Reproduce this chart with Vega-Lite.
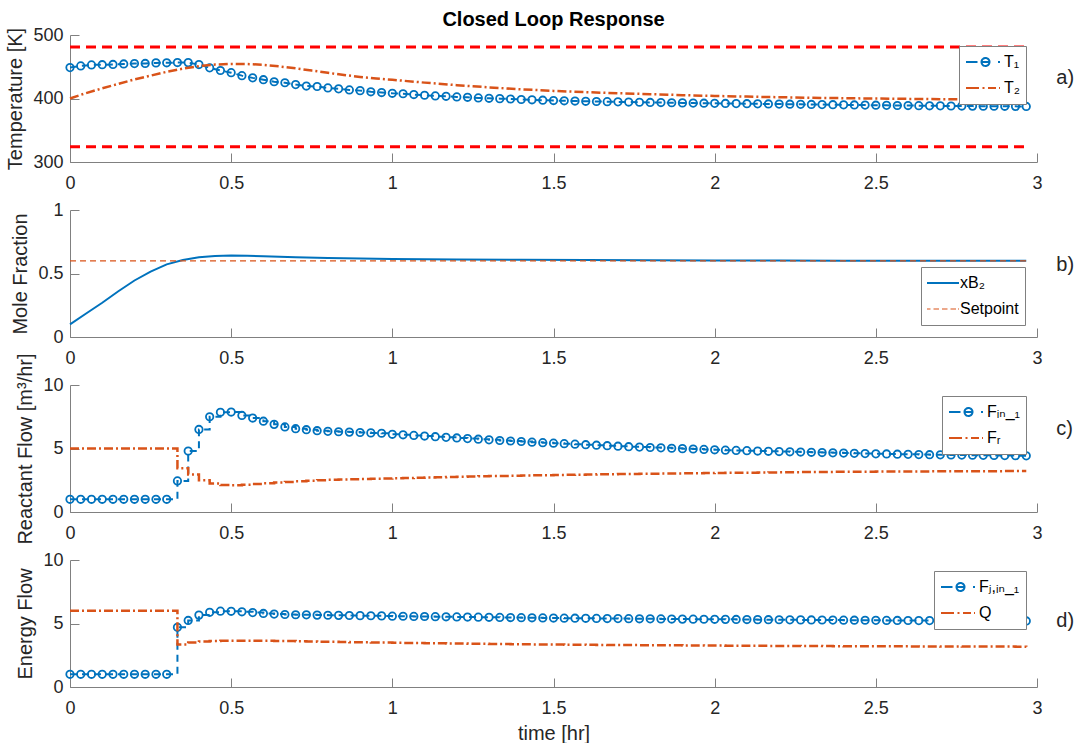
{
"$schema": "https://vega.github.io/schema/vega-lite/v6.json",
"background": "white",
"padding": {"left": 5, "top": 10, "right": 0, "bottom": 0},
"spacing": 48,
"bounds": "flush",
"datasets": {
"T1": [{"t":0,"v":448.7},{"t":0.0333,"v":451.3},{"t":0.0667,"v":452.9},{"t":0.1,"v":453.2},{"t":0.1333,"v":453.6},{"t":0.1667,"v":454.4},{"t":0.2,"v":455.0},{"t":0.2333,"v":455.2},{"t":0.2667,"v":456.1},{"t":0.3,"v":456.2},{"t":0.3333,"v":456.6},{"t":0.3667,"v":456.5},{"t":0.4,"v":453.5},{"t":0.4333,"v":448.3},{"t":0.4667,"v":444.1},{"t":0.5,"v":440.7},{"t":0.5333,"v":436.0},{"t":0.5667,"v":432.5},{"t":0.6,"v":429.6},{"t":0.6333,"v":426.4},{"t":0.6667,"v":424.8},{"t":0.7,"v":421.9},{"t":0.7333,"v":419.6},{"t":0.7667,"v":418.9},{"t":0.8,"v":416.7},{"t":0.8333,"v":415.2},{"t":0.8667,"v":413.5},{"t":0.9,"v":412.4},{"t":0.9333,"v":410.6},{"t":0.9667,"v":409.4},{"t":1,"v":408.2},{"t":1.0333,"v":407.5},{"t":1.0667,"v":406.2},{"t":1.1,"v":405.1},{"t":1.1333,"v":404.1},{"t":1.1667,"v":403.5},{"t":1.2,"v":402.5},{"t":1.2333,"v":401.9},{"t":1.2667,"v":400.9},{"t":1.3,"v":400.3},{"t":1.3333,"v":399.8},{"t":1.3667,"v":399.2},{"t":1.4,"v":398.4},{"t":1.4333,"v":398.0},{"t":1.4667,"v":397.3},{"t":1.5,"v":396.8},{"t":1.5333,"v":396.4},{"t":1.5667,"v":396.0},{"t":1.6,"v":395.6},{"t":1.6333,"v":395.3},{"t":1.6667,"v":395.0},{"t":1.7,"v":394.7},{"t":1.7333,"v":394.4},{"t":1.7667,"v":394.1},{"t":1.8,"v":393.8},{"t":1.8333,"v":393.6},{"t":1.8667,"v":393.3},{"t":1.9,"v":393.1},{"t":1.9333,"v":392.8},{"t":1.9667,"v":392.6},{"t":2,"v":392.4},{"t":2.0333,"v":392.2},{"t":2.0667,"v":392.0},{"t":2.1,"v":391.8},{"t":2.1333,"v":391.6},{"t":2.1667,"v":391.4},{"t":2.2,"v":391.2},{"t":2.2333,"v":391.0},{"t":2.2667,"v":390.8},{"t":2.3,"v":390.6},{"t":2.3333,"v":390.4},{"t":2.3667,"v":390.2},{"t":2.4,"v":390.0},{"t":2.4333,"v":389.8},{"t":2.4667,"v":389.6},{"t":2.5,"v":389.4},{"t":2.5333,"v":389.2},{"t":2.5667,"v":389.0},{"t":2.6,"v":388.9},{"t":2.6333,"v":388.7},{"t":2.6667,"v":388.5},{"t":2.7,"v":388.4},{"t":2.7333,"v":388.2},{"t":2.7667,"v":388.1},{"t":2.8,"v":388.0},{"t":2.8333,"v":387.9},{"t":2.8667,"v":387.8},{"t":2.9,"v":387.7},{"t":2.9333,"v":387.6},{"t":2.9667,"v":387.5}],
"T2": [{"t":0,"v":400},{"t":0.05,"v":408.5},{"t":0.1,"v":416},{"t":0.15,"v":423},{"t":0.2,"v":430},{"t":0.25,"v":436},{"t":0.3,"v":442},{"t":0.35,"v":447},{"t":0.4,"v":451},{"t":0.45,"v":453.5},{"t":0.5,"v":454.5},{"t":0.55,"v":454.3},{"t":0.6,"v":453},{"t":0.65,"v":450.5},{"t":0.7,"v":447.5},{"t":0.75,"v":444},{"t":0.8,"v":440.5},{"t":0.85,"v":437},{"t":0.9,"v":434},{"t":0.95,"v":431.5},{"t":1.0,"v":429.5},{"t":1.1,"v":425},{"t":1.2,"v":421},{"t":1.3,"v":417.5},{"t":1.4,"v":414.5},{"t":1.5,"v":412},{"t":1.6,"v":410},{"t":1.7,"v":408.3},{"t":1.8,"v":406.8},{"t":1.9,"v":405.3},{"t":2.0,"v":404},{"t":2.1,"v":403},{"t":2.2,"v":402},{"t":2.3,"v":401.2},{"t":2.4,"v":400.5},{"t":2.5,"v":399.9},{"t":2.6,"v":399.4},{"t":2.7,"v":399},{"t":2.8,"v":398.6},{"t":2.9,"v":398.3},{"t":2.9667,"v":398.1}],
"lim": [{"t":0,"t2":2.9667,"v":481},{"t":0,"t2":2.9667,"v":324}],
"xb": [{"t":0,"v":0.10},{"t":0.05,"v":0.185},{"t":0.1,"v":0.27},{"t":0.15,"v":0.36},{"t":0.2,"v":0.445},{"t":0.25,"v":0.515},{"t":0.3,"v":0.572},{"t":0.35,"v":0.607},{"t":0.4,"v":0.628},{"t":0.45,"v":0.638},{"t":0.5,"v":0.641},{"t":0.55,"v":0.640},{"t":0.6,"v":0.636},{"t":0.7,"v":0.628},{"t":0.8,"v":0.622},{"t":0.9,"v":0.618},{"t":1.0,"v":0.615},{"t":1.2,"v":0.611},{"t":1.4,"v":0.608},{"t":1.6,"v":0.606},{"t":1.8,"v":0.604},{"t":2.0,"v":0.603},{"t":2.2,"v":0.602},{"t":2.4,"v":0.601},{"t":2.6,"v":0.600},{"t":2.8,"v":0.600},{"t":2.9667,"v":0.600}],
"sp": [{"t":0,"v":0.6},{"t":2.9667,"v":0.6}],
"Fin": [{"t":0,"v":1.0},{"t":0.0333,"v":1.0},{"t":0.0667,"v":1.0},{"t":0.1,"v":1.0},{"t":0.1333,"v":1.0},{"t":0.1667,"v":1.0},{"t":0.2,"v":1.0},{"t":0.2333,"v":1.0},{"t":0.2667,"v":1.0},{"t":0.3,"v":1.0},{"t":0.3333,"v":2.45},{"t":0.3667,"v":4.8},{"t":0.4,"v":6.5},{"t":0.4333,"v":7.5},{"t":0.4667,"v":7.85},{"t":0.5,"v":7.87},{"t":0.5333,"v":7.6},{"t":0.5667,"v":7.4},{"t":0.6,"v":7.15},{"t":0.6333,"v":6.9},{"t":0.6667,"v":6.7},{"t":0.7,"v":6.56},{"t":0.7333,"v":6.48},{"t":0.7667,"v":6.4},{"t":0.8,"v":6.35},{"t":0.8333,"v":6.32},{"t":0.8667,"v":6.29},{"t":0.9,"v":6.26},{"t":0.9333,"v":6.23},{"t":0.9667,"v":6.2},{"t":1,"v":6.12},{"t":1.0333,"v":6.08},{"t":1.0667,"v":6.03},{"t":1.1,"v":5.98},{"t":1.1333,"v":5.93},{"t":1.1667,"v":5.88},{"t":1.2,"v":5.83},{"t":1.2333,"v":5.78},{"t":1.2667,"v":5.73},{"t":1.3,"v":5.68},{"t":1.3333,"v":5.63},{"t":1.3667,"v":5.59},{"t":1.4,"v":5.55},{"t":1.4333,"v":5.5},{"t":1.4667,"v":5.46},{"t":1.5,"v":5.42},{"t":1.5333,"v":5.38},{"t":1.5667,"v":5.34},{"t":1.6,"v":5.3},{"t":1.6333,"v":5.26},{"t":1.6667,"v":5.22},{"t":1.7,"v":5.18},{"t":1.7333,"v":5.14},{"t":1.7667,"v":5.11},{"t":1.8,"v":5.08},{"t":1.8333,"v":5.05},{"t":1.8667,"v":5.02},{"t":1.9,"v":4.99},{"t":1.9333,"v":4.96},{"t":1.9667,"v":4.93},{"t":2,"v":4.9},{"t":2.0333,"v":4.87},{"t":2.0667,"v":4.85},{"t":2.1,"v":4.83},{"t":2.1333,"v":4.8},{"t":2.1667,"v":4.78},{"t":2.2,"v":4.76},{"t":2.2333,"v":4.74},{"t":2.2667,"v":4.72},{"t":2.3,"v":4.7},{"t":2.3333,"v":4.68},{"t":2.3667,"v":4.66},{"t":2.4,"v":4.64},{"t":2.4333,"v":4.62},{"t":2.4667,"v":4.6},{"t":2.5,"v":4.58},{"t":2.5333,"v":4.57},{"t":2.5667,"v":4.55},{"t":2.6,"v":4.54},{"t":2.6333,"v":4.52},{"t":2.6667,"v":4.51},{"t":2.7,"v":4.5},{"t":2.7333,"v":4.49},{"t":2.7667,"v":4.48},{"t":2.8,"v":4.47},{"t":2.8333,"v":4.46},{"t":2.8667,"v":4.45},{"t":2.9,"v":4.44},{"t":2.9333,"v":4.43},{"t":2.9667,"v":4.42}],
"FR": [{"t":0,"v":5.0},{"t":0.0333,"v":5.0},{"t":0.0667,"v":5.0},{"t":0.1,"v":5.0},{"t":0.1333,"v":5.0},{"t":0.1667,"v":5.0},{"t":0.2,"v":5.0},{"t":0.2333,"v":5.0},{"t":0.2667,"v":5.0},{"t":0.3,"v":5.0},{"t":0.3333,"v":3.45},{"t":0.3667,"v":2.95},{"t":0.4,"v":2.5},{"t":0.4333,"v":2.25},{"t":0.4667,"v":2.12},{"t":0.5,"v":2.1},{"t":0.5333,"v":2.15},{"t":0.5667,"v":2.2},{"t":0.6,"v":2.26},{"t":0.6333,"v":2.32},{"t":0.6667,"v":2.37},{"t":0.7,"v":2.42},{"t":0.7333,"v":2.46},{"t":0.7667,"v":2.5},{"t":0.8,"v":2.53},{"t":0.8333,"v":2.55},{"t":0.8667,"v":2.57},{"t":0.9,"v":2.59},{"t":0.9333,"v":2.61},{"t":0.9667,"v":2.63},{"t":1,"v":2.65},{"t":1.0333,"v":2.67},{"t":1.0667,"v":2.69},{"t":1.1,"v":2.71},{"t":1.1333,"v":2.73},{"t":1.1667,"v":2.75},{"t":1.2,"v":2.77},{"t":1.2333,"v":2.79},{"t":1.2667,"v":2.81},{"t":1.3,"v":2.83},{"t":1.3333,"v":2.84},{"t":1.3667,"v":2.86},{"t":1.4,"v":2.87},{"t":1.4333,"v":2.89},{"t":1.4667,"v":2.9},{"t":1.5,"v":2.91},{"t":1.5333,"v":2.93},{"t":1.5667,"v":2.94},{"t":1.6,"v":2.95},{"t":1.6333,"v":2.97},{"t":1.6667,"v":2.98},{"t":1.7,"v":2.99},{"t":1.7333,"v":3.0},{"t":1.7667,"v":3.01},{"t":1.8,"v":3.02},{"t":1.8333,"v":3.03},{"t":1.8667,"v":3.04},{"t":1.9,"v":3.05},{"t":1.9333,"v":3.06},{"t":1.9667,"v":3.07},{"t":2,"v":3.08},{"t":2.0333,"v":3.09},{"t":2.0667,"v":3.1},{"t":2.1,"v":3.1},{"t":2.1333,"v":3.11},{"t":2.1667,"v":3.12},{"t":2.2,"v":3.13},{"t":2.2333,"v":3.13},{"t":2.2667,"v":3.14},{"t":2.3,"v":3.15},{"t":2.3333,"v":3.15},{"t":2.3667,"v":3.16},{"t":2.4,"v":3.16},{"t":2.4333,"v":3.17},{"t":2.4667,"v":3.17},{"t":2.5,"v":3.18},{"t":2.5333,"v":3.18},{"t":2.5667,"v":3.19},{"t":2.6,"v":3.19},{"t":2.6333,"v":3.19},{"t":2.6667,"v":3.2},{"t":2.7,"v":3.2},{"t":2.7333,"v":3.2},{"t":2.7667,"v":3.21},{"t":2.8,"v":3.21},{"t":2.8333,"v":3.21},{"t":2.8667,"v":3.21},{"t":2.9,"v":3.22},{"t":2.9333,"v":3.22},{"t":2.9667,"v":3.22}],
"Fj": [{"t":0,"v":1.0},{"t":0.0333,"v":1.0},{"t":0.0667,"v":1.0},{"t":0.1,"v":1.0},{"t":0.1333,"v":1.0},{"t":0.1667,"v":1.0},{"t":0.2,"v":1.0},{"t":0.2333,"v":1.0},{"t":0.2667,"v":1.0},{"t":0.3,"v":1.0},{"t":0.3333,"v":4.7},{"t":0.3667,"v":5.24},{"t":0.4,"v":5.66},{"t":0.4333,"v":5.88},{"t":0.4667,"v":5.97},{"t":0.5,"v":5.96},{"t":0.5333,"v":5.92},{"t":0.5667,"v":5.86},{"t":0.6,"v":5.79},{"t":0.6333,"v":5.74},{"t":0.6667,"v":5.71},{"t":0.7,"v":5.69},{"t":0.7333,"v":5.68},{"t":0.7667,"v":5.66},{"t":0.8,"v":5.65},{"t":0.8333,"v":5.64},{"t":0.8667,"v":5.63},{"t":0.9,"v":5.62},{"t":0.9333,"v":5.61},{"t":0.9667,"v":5.6},{"t":1,"v":5.58},{"t":1.0333,"v":5.57},{"t":1.0667,"v":5.56},{"t":1.1,"v":5.55},{"t":1.1333,"v":5.54},{"t":1.1667,"v":5.53},{"t":1.2,"v":5.52},{"t":1.2333,"v":5.51},{"t":1.2667,"v":5.5},{"t":1.3,"v":5.49},{"t":1.3333,"v":5.48},{"t":1.3667,"v":5.47},{"t":1.4,"v":5.46},{"t":1.4333,"v":5.45},{"t":1.4667,"v":5.44},{"t":1.5,"v":5.43},{"t":1.5333,"v":5.42},{"t":1.5667,"v":5.415},{"t":1.6,"v":5.41},{"t":1.6333,"v":5.4},{"t":1.6667,"v":5.39},{"t":1.7,"v":5.385},{"t":1.7333,"v":5.38},{"t":1.7667,"v":5.37},{"t":1.8,"v":5.365},{"t":1.8333,"v":5.36},{"t":1.8667,"v":5.35},{"t":1.9,"v":5.345},{"t":1.9333,"v":5.34},{"t":1.9667,"v":5.335},{"t":2,"v":5.33},{"t":2.0333,"v":5.325},{"t":2.0667,"v":5.32},{"t":2.1,"v":5.31},{"t":2.1333,"v":5.305},{"t":2.1667,"v":5.3},{"t":2.2,"v":5.295},{"t":2.2333,"v":5.29},{"t":2.2667,"v":5.285},{"t":2.3,"v":5.28},{"t":2.3333,"v":5.275},{"t":2.3667,"v":5.27},{"t":2.4,"v":5.265},{"t":2.4333,"v":5.26},{"t":2.4667,"v":5.255},{"t":2.5,"v":5.25},{"t":2.5333,"v":5.245},{"t":2.5667,"v":5.24},{"t":2.6,"v":5.235},{"t":2.6333,"v":5.23},{"t":2.6667,"v":5.228},{"t":2.7,"v":5.225},{"t":2.7333,"v":5.222},{"t":2.7667,"v":5.22},{"t":2.8,"v":5.217},{"t":2.8333,"v":5.215},{"t":2.8667,"v":5.212},{"t":2.9,"v":5.21},{"t":2.9333,"v":5.205},{"t":2.9667,"v":5.2}],
"Q": [{"t":0,"v":6.0},{"t":0.0333,"v":6.0},{"t":0.0667,"v":6.0},{"t":0.1,"v":6.0},{"t":0.1333,"v":6.0},{"t":0.1667,"v":6.0},{"t":0.2,"v":6.0},{"t":0.2333,"v":6.0},{"t":0.2667,"v":6.0},{"t":0.3,"v":6.0},{"t":0.3333,"v":3.35},{"t":0.3667,"v":3.5},{"t":0.4,"v":3.58},{"t":0.4333,"v":3.62},{"t":0.4667,"v":3.64},{"t":0.5,"v":3.65},{"t":0.5333,"v":3.65},{"t":0.5667,"v":3.64},{"t":0.6,"v":3.64},{"t":0.6333,"v":3.63},{"t":0.6667,"v":3.62},{"t":0.7,"v":3.6},{"t":0.7333,"v":3.59},{"t":0.7667,"v":3.57},{"t":0.8,"v":3.56},{"t":0.8333,"v":3.55},{"t":0.8667,"v":3.53},{"t":0.9,"v":3.52},{"t":0.9333,"v":3.51},{"t":0.9667,"v":3.5},{"t":1,"v":3.48},{"t":1.0333,"v":3.47},{"t":1.0667,"v":3.46},{"t":1.1,"v":3.45},{"t":1.1333,"v":3.44},{"t":1.1667,"v":3.43},{"t":1.2,"v":3.42},{"t":1.2333,"v":3.41},{"t":1.2667,"v":3.4},{"t":1.3,"v":3.39},{"t":1.3333,"v":3.38},{"t":1.3667,"v":3.37},{"t":1.4,"v":3.36},{"t":1.4333,"v":3.355},{"t":1.4667,"v":3.35},{"t":1.5,"v":3.34},{"t":1.5333,"v":3.335},{"t":1.5667,"v":3.33},{"t":1.6,"v":3.32},{"t":1.6333,"v":3.315},{"t":1.6667,"v":3.31},{"t":1.7,"v":3.305},{"t":1.7333,"v":3.3},{"t":1.7667,"v":3.295},{"t":1.8,"v":3.29},{"t":1.8333,"v":3.285},{"t":1.8667,"v":3.28},{"t":1.9,"v":3.275},{"t":1.9333,"v":3.27},{"t":1.9667,"v":3.265},{"t":2,"v":3.26},{"t":2.0333,"v":3.255},{"t":2.0667,"v":3.25},{"t":2.1,"v":3.245},{"t":2.1333,"v":3.24},{"t":2.1667,"v":3.237},{"t":2.2,"v":3.234},{"t":2.2333,"v":3.23},{"t":2.2667,"v":3.227},{"t":2.3,"v":3.224},{"t":2.3333,"v":3.22},{"t":2.3667,"v":3.217},{"t":2.4,"v":3.214},{"t":2.4333,"v":3.21},{"t":2.4667,"v":3.207},{"t":2.5,"v":3.205},{"t":2.5333,"v":3.202},{"t":2.5667,"v":3.2},{"t":2.6,"v":3.198},{"t":2.6333,"v":3.196},{"t":2.6667,"v":3.194},{"t":2.7,"v":3.192},{"t":2.7333,"v":3.19},{"t":2.7667,"v":3.188},{"t":2.8,"v":3.186},{"t":2.8333,"v":3.184},{"t":2.8667,"v":3.182},{"t":2.9,"v":3.18},{"t":2.9333,"v":3.178},{"t":2.9667,"v":3.176}]
},
"vconcat": [
{
"width": 967, "height": 127,
"title": {"text": "Closed Loop Response", "font": "Liberation Sans", "fontSize": 20, "fontWeight": "bold", "color": "#000000", "anchor": "middle", "frame": "group", "offset": -4},
"encoding": {
"x": {"field": "t", "type": "quantitative", "scale": {"domain": [0, 3], "nice": false, "zero": false}, "axis": {"values": [0, 0.5, 1, 1.5, 2, 2.5, 3], "labelExpr": "datum.value + ''", "title": null}},
"y": {"field": "v", "type": "quantitative", "scale": {"domain": [300, 500], "nice": false, "zero": false}, "axis": {"values": [300, 400, 500], "labelExpr": "datum.value + ''", "title": "Temperature [K]"}}
},
"layer": [
{"data": {"name": "T1"}, "mark": {"type": "line", "strokeWidth": 2, "strokeDash": [7, 5]},
 "encoding": {"color": {"datum": "T₁", "type": "nominal", "scale": {"domain": ["T₁", "T₂"], "range": ["#0072BD", "#D95319"]},
  "legend": {"title": null, "orient": "top-right", "offset": 11,
   "encode": {"symbols": {"update": {"shape": {"signal": "datum.value === 'T₁' ? 'M-1,0H0.15M1.35,0A0.4,0.4 0 1,1 0.55,0A0.4,0.4 0 1,1 1.35,0M0.6,0H1.3M2.2,0H2.4' : 'M-1,0H0.3M0.65,0H0.85M1.2,0H2.0M2.3,0H2.4'"}, "strokeDash": {"value": [1, 0]}, "strokeWidth": {"value": 2}, "fill": {"value": "transparent"}}}}}}}},
{"data": {"name": "T1"}, "mark": {"type": "point", "shape": "circle", "filled": false, "size": 55, "strokeWidth": 1.8, "color": "#0072BD", "opacity": 1}},
{"data": {"name": "T2"}, "mark": {"type": "line", "strokeWidth": 2.5, "strokeDash": [9, 3, 2, 3]},
 "encoding": {"color": {"datum": "T₂", "type": "nominal"}}},
{"data": {"name": "lim"}, "mark": {"type": "rule", "color": "#FF0000", "strokeWidth": 3, "strokeDash": [10, 6]},
 "encoding": {"x2": {"field": "t2"}}},
{"data": {"values": [{"t": 3.06, "v": 433, "lab": "a)"}]}, "mark": {"type": "text", "align": "left", "baseline": "middle", "font": "Liberation Sans", "fontSize": 20, "color": "#262626"},
 "encoding": {"text": {"field": "lab"}}}
]
},
{
"width": 967, "height": 127,
"encoding": {
"x": {"field": "t", "type": "quantitative", "scale": {"domain": [0, 3], "nice": false, "zero": false}, "axis": {"values": [0, 0.5, 1, 1.5, 2, 2.5, 3], "labelExpr": "datum.value + ''", "title": null}},
"y": {"field": "v", "type": "quantitative", "scale": {"domain": [0, 1], "nice": false, "zero": false}, "axis": {"values": [0, 0.5, 1], "labelExpr": "datum.value + ''", "title": "Mole Fraction"}}
},
"layer": [
{"data": {"name": "xb"}, "mark": {"type": "line", "strokeWidth": 2},
 "encoding": {"color": {"datum": "xB₂", "type": "nominal", "scale": {"domain": ["xB₂", "Setpoint"], "range": ["#0072BD", "#D95319"]},
  "legend": {"title": null, "orient": "bottom-right", "offset": 12,
   "encode": {"symbols": {"update": {"shape": {"signal": "datum.value === 'Setpoint' ? 'M-1,0H-0.45M-0.15,0H0.4M0.7,0H1.25M1.55,0H2.1M2.3,0H2.4' : 'M-1,0H2.4'"}, "strokeDash": {"value": [1, 0]}, "strokeWidth": {"signal": "datum.value === 'Setpoint' ? 1.2 : 2"}, "fill": {"value": "transparent"}}}}}}}},
{"data": {"name": "sp"}, "mark": {"type": "line", "strokeWidth": 1.2, "strokeDash": [6, 4]},
 "encoding": {"color": {"datum": "Setpoint", "type": "nominal"}}},
{"data": {"values": [{"t": 3.06, "v": 0.57, "lab": "b)"}]}, "mark": {"type": "text", "align": "left", "baseline": "middle", "font": "Liberation Sans", "fontSize": 20, "color": "#262626"},
 "encoding": {"text": {"field": "lab"}}}
]
},
{
"width": 967, "height": 127,
"encoding": {
"x": {"field": "t", "type": "quantitative", "scale": {"domain": [0, 3], "nice": false, "zero": false}, "axis": {"values": [0, 0.5, 1, 1.5, 2, 2.5, 3], "labelExpr": "datum.value + ''", "title": null}},
"y": {"field": "v", "type": "quantitative", "scale": {"domain": [0, 10], "nice": false, "zero": false}, "axis": {"values": [0, 5, 10], "labelExpr": "datum.value + ''", "title": "Reactant Flow [m³/hr]"}}
},
"layer": [
{"data": {"name": "Fin"}, "mark": {"type": "line", "interpolate": "step-after", "strokeWidth": 2, "strokeDash": [7, 5]},
 "encoding": {"color": {"datum": "Fᵢₙ_₁", "type": "nominal", "scale": {"domain": ["Fᵢₙ_₁", "Fᵣ"], "range": ["#0072BD", "#D95319"]},
  "legend": {"title": null, "orient": "top-right", "offset": 11,
   "encode": {"symbols": {"update": {"shape": {"signal": "datum.value === 'Fᵢₙ_₁' ? 'M-1,0H0.15M1.35,0A0.4,0.4 0 1,1 0.55,0A0.4,0.4 0 1,1 1.35,0M0.6,0H1.3M2.2,0H2.4' : 'M-1,0H0.3M0.65,0H0.85M1.2,0H2.0M2.3,0H2.4'"}, "strokeDash": {"value": [1, 0]}, "strokeWidth": {"value": 2}, "fill": {"value": "transparent"}}}}}}}},
{"data": {"name": "Fin"}, "mark": {"type": "point", "shape": "circle", "filled": false, "size": 55, "strokeWidth": 1.8, "color": "#0072BD", "opacity": 1}},
{"data": {"name": "FR"}, "mark": {"type": "line", "interpolate": "step-after", "strokeWidth": 2.5, "strokeDash": [9, 3, 2, 3]},
 "encoding": {"color": {"datum": "Fᵣ", "type": "nominal"}}},
{"data": {"values": [{"t": 3.06, "v": 6.5, "lab": "c)"}]}, "mark": {"type": "text", "align": "left", "baseline": "middle", "font": "Liberation Sans", "fontSize": 20, "color": "#262626"},
 "encoding": {"text": {"field": "lab"}}}
]
},
{
"width": 967, "height": 127,
"encoding": {
"x": {"field": "t", "type": "quantitative", "scale": {"domain": [0, 3], "nice": false, "zero": false}, "axis": {"values": [0, 0.5, 1, 1.5, 2, 2.5, 3], "labelExpr": "datum.value + ''", "title": "time [hr]"}},
"y": {"field": "v", "type": "quantitative", "scale": {"domain": [0, 10], "nice": false, "zero": false}, "axis": {"values": [0, 5, 10], "labelExpr": "datum.value + ''", "title": "Energy Flow"}}
},
"layer": [
{"data": {"name": "Fj"}, "mark": {"type": "line", "interpolate": "step-after", "strokeWidth": 2, "strokeDash": [7, 5]},
 "encoding": {"color": {"datum": "Fⱼ,ᵢₙ_₁", "type": "nominal", "scale": {"domain": ["Fⱼ,ᵢₙ_₁", "Q"], "range": ["#0072BD", "#D95319"]},
  "legend": {"title": null, "orient": "top-right", "offset": 11,
   "encode": {"symbols": {"update": {"shape": {"signal": "datum.value === 'Q' ? 'M-1,0H0.3M0.65,0H0.85M1.2,0H2.0M2.3,0H2.4' : 'M-1,0H0.15M1.35,0A0.4,0.4 0 1,1 0.55,0A0.4,0.4 0 1,1 1.35,0M0.6,0H1.3M2.2,0H2.4'"}, "strokeDash": {"value": [1, 0]}, "strokeWidth": {"value": 2}, "fill": {"value": "transparent"}}}}}}}},
{"data": {"name": "Fj"}, "mark": {"type": "point", "shape": "circle", "filled": false, "size": 55, "strokeWidth": 1.8, "color": "#0072BD", "opacity": 1}},
{"data": {"name": "Q"}, "mark": {"type": "line", "interpolate": "step-after", "strokeWidth": 2.5, "strokeDash": [9, 3, 2, 3]},
 "encoding": {"color": {"datum": "Q", "type": "nominal"}}},
{"data": {"values": [{"t": 3.06, "v": 5.2, "lab": "d)"}]}, "mark": {"type": "text", "align": "left", "baseline": "middle", "font": "Liberation Sans", "fontSize": 20, "color": "#262626"},
 "encoding": {"text": {"field": "lab"}}}
]
}
],
"resolve": {"scale": {"color": "independent", "x": "independent", "y": "independent"}, "legend": {"color": "independent"}},
"config": {
"font": "Liberation Sans",
"view": {"stroke": null},
"axis": {"grid": false, "labelFont": "Liberation Sans", "labelFontSize": 18, "labelColor": "#262626", "titleFont": "Liberation Sans", "titleFontSize": 20, "titleFontWeight": "normal", "titleColor": "#262626", "domainColor": "#808080", "tickColor": "#808080", "tickSize": -9, "domainWidth": 1, "tickWidth": 1, "labelFlush": false},
"axisX": {"labelPadding": 21, "titlePadding": 6},
"axisY": {"labelPadding": 16, "titlePadding": 7},
"legend": {"labelFont": "Liberation Sans, DejaVu Sans", "labelFontSize": 16, "labelColor": "#000000", "strokeColor": "#808080", "fillColor": "#ffffff", "padding": 6, "symbolSize": 400, "clipHeight": 20, "rowPadding": 6, "labelOffset": 17}
}
}
